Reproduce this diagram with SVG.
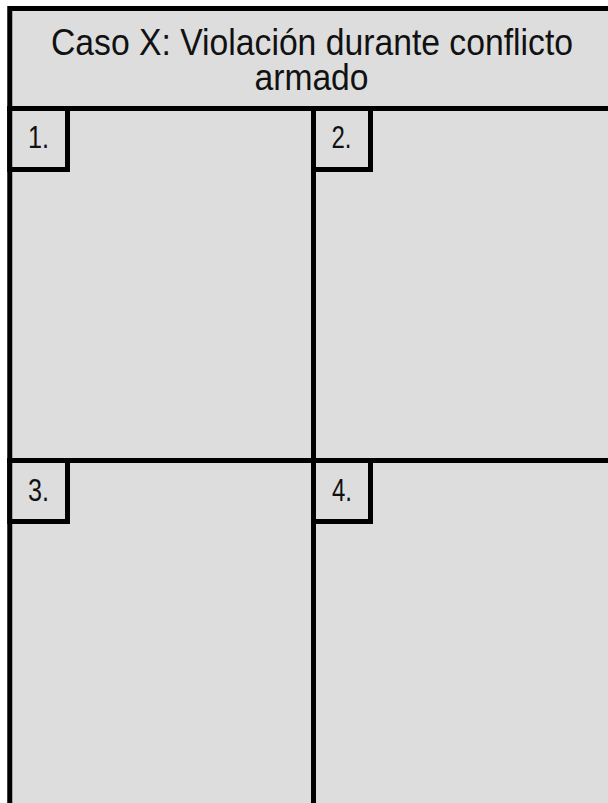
<svg xmlns="http://www.w3.org/2000/svg" width="608" height="803" viewBox="0 0 608 803">
  <style>
    .frame { fill: #dddddd; stroke: #000000; stroke-width: 5; }
    .tag { fill: #dddddd; stroke: #000000; stroke-width: 5; }
    .title { font-family: "Liberation Sans Narrow", "Liberation Sans", Arial, sans-serif; font-size: 37px; fill: #111111; text-anchor: middle; }
    .num { font-family: "Liberation Sans Narrow", "Liberation Sans", Arial, sans-serif; font-size: 31px; fill: #111111; text-anchor: middle; }
  </style>
  <rect x="0" y="0" width="608" height="803" fill="#ffffff"/>
  <g id="title">
    <rect class="frame" x="9.75" y="8.5" width="620" height="100"/>
    <text class="title" x="312" y="55" textLength="522" lengthAdjust="spacingAndGlyphs">Caso X: Violación durante conflicto</text>
    <text class="title" x="311.5" y="89.5" textLength="114" lengthAdjust="spacingAndGlyphs">armado</text>
  </g>
  <g id="panel1">
    <rect class="frame" x="9.75" y="108.5" width="303.75" height="352"/>
    <rect class="tag" x="9.75" y="108.5" width="57.75" height="61"/>
    <text class="num" x="38.5" y="148" textLength="21" lengthAdjust="spacingAndGlyphs">1.</text>
  </g>
  <g id="panel2">
    <rect class="frame" x="313.5" y="108.5" width="320" height="352"/>
    <rect class="tag" x="313.5" y="108.5" width="57" height="61"/>
    <text class="num" x="341.5" y="148" textLength="20" lengthAdjust="spacingAndGlyphs">2.</text>
  </g>
  <g id="panel3">
    <rect class="frame" x="9.75" y="460.5" width="303.75" height="370"/>
    <rect class="tag" x="9.75" y="460.5" width="57.75" height="61"/>
    <text class="num" x="38.5" y="501" textLength="21" lengthAdjust="spacingAndGlyphs">3.</text>
  </g>
  <g id="panel4">
    <rect class="frame" x="313.5" y="460.5" width="320" height="370"/>
    <rect class="tag" x="313.5" y="460.5" width="57" height="61"/>
    <text class="num" x="342" y="501" textLength="20" lengthAdjust="spacingAndGlyphs">4.</text>
  </g>
  <g id="connectors"></g>
</svg>
